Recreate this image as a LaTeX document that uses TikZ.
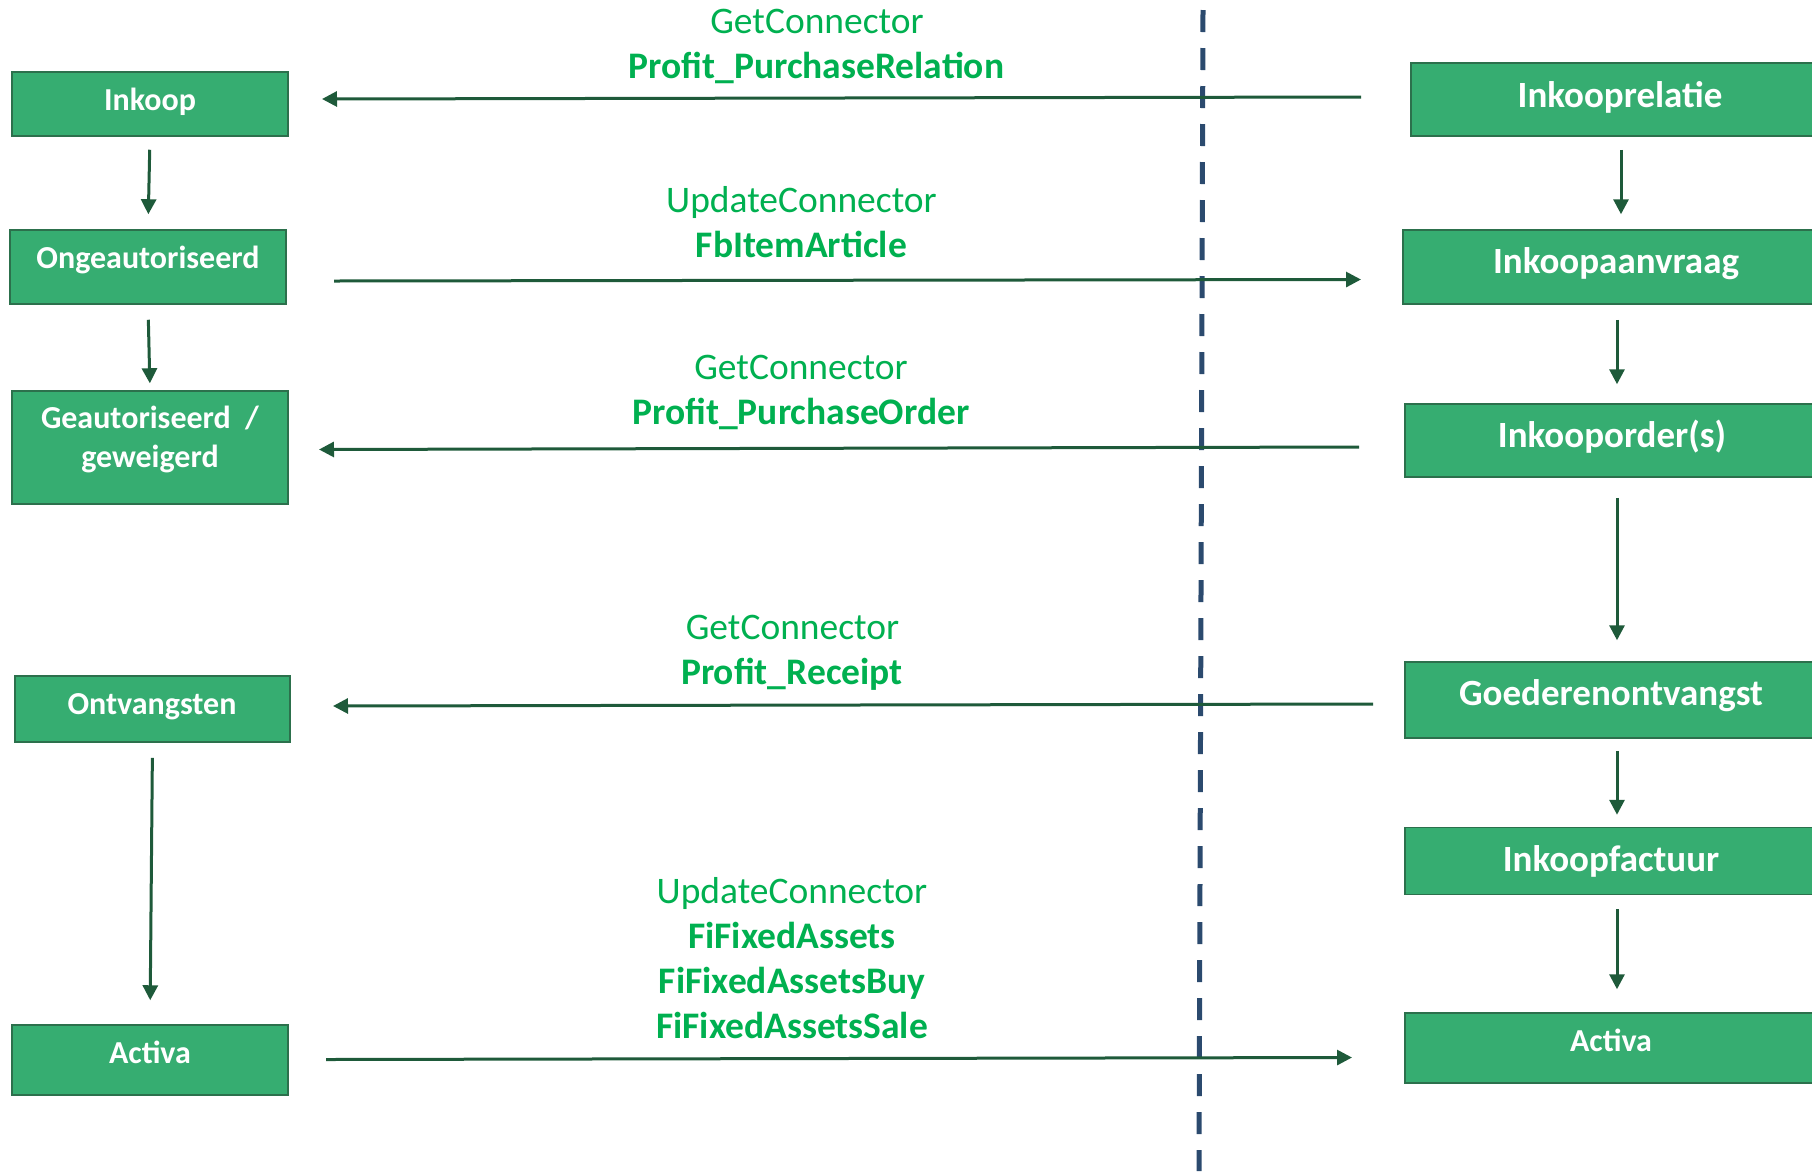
\documentclass[tikz,border=0pt]{standalone}
\usepackage{fontspec}
\setmainfont{Carlito}
\usetikzlibrary{arrows.meta}
\definecolor{boxfill}{RGB}{54,173,113}
\definecolor{boxline}{RGB}{44,112,76}
\definecolor{arrowc}{RGB}{30,90,58}
\definecolor{lblc}{RGB}{0,176,80}
\definecolor{dashc}{RGB}{43,74,110}
\tikzset{
  box/.style={rectangle, draw=boxline, line width=1.5pt, fill=boxfill, inner sep=0pt},
  ltxt/.style={anchor=base, inner sep=0pt, text=white, font=\fontsize{32}{38}\selectfont\bfseries},
  rtxt/.style={anchor=base, inner sep=0pt, text=white, font=\fontsize{37}{44}\selectfont\bfseries},
  lbl/.style={anchor=base, inner sep=0pt, text=lblc, font=\fontsize{37.5}{45}\selectfont},
  lblb/.style={anchor=base, inner sep=0pt, text=lblc, font=\fontsize{37.5}{45}\selectfont\bfseries},
  arr/.style={draw=arrowc, line width=3pt, -{Triangle[length=15pt,width=15pt]}},
  divider/.style={draw=dashc, line width=5pt, dash pattern=on 22pt off 16pt}
}
\begin{document}
\begin{tikzpicture}[x=1pt,y=-1pt]
\useasboundingbox (0,0) rectangle (1812,1171);

% divider
\coordinate (divtop) at (1203,10);
\coordinate (divbot) at (1199,1171);
\draw[divider] (divtop) -- (divbot);

% left boxes
\node[box, minimum width=276pt, minimum height=64pt] (inkoop) at (150,104) {};
\node[box, minimum width=276pt, minimum height=74pt] (onge) at (148,267) {};
\node[box, minimum width=276pt, minimum height=113pt] (geaut) at (150,447.5) {};
\node[box, minimum width=275pt, minimum height=66pt] (ontv) at (152.5,709) {};
\node[box, minimum width=276pt, minimum height=70pt] (activaL) at (150,1060) {};

\node[ltxt] (t-inkoop) at (150,110) {Inkoop};
\node[ltxt] (t-onge) at (148,268) {Ongeautoriseerd};
\node[ltxt] (t-geaut1) at (150,428) {Geautoriseerd\hspace{0.45em}/};
\node[ltxt] (t-geaut2) at (150,467) {geweigerd};
\node[ltxt] (t-ontv) at (152,714) {Ontvangsten};
\node[ltxt] (t-activaL) at (150,1063) {Activa};

% right boxes
\node[box, minimum width=420pt, minimum height=73pt] (rel) at (1621,99.5) {};
\node[box, minimum width=428pt, minimum height=74pt] (aanvraag) at (1617,267) {};
\node[box, minimum width=424pt, minimum height=73pt] (order) at (1617,440.5) {};
\node[box, minimum width=424pt, minimum height=76pt] (goed) at (1617,700) {};
\node[box, minimum width=424pt, minimum height=67pt] (fact) at (1617,861) {};
\node[box, minimum width=424pt, minimum height=70pt] (activaR) at (1617,1048) {};

\node[rtxt] (t-rel) at (1620,107) {Inkooprelatie};
\node[rtxt] (t-aanvraag) at (1616,273) {Inkoopaanvraag};
\node[rtxt] (t-order) at (1612,447) {Inkooporder(s)};
\node[rtxt] (t-goed) at (1611,705) {Goederenontvangst};
\node[rtxt] (t-fact) at (1611,871) {Inkoopfactuur};
\node[ltxt] (t-activaR) at (1611,1051) {Activa};

% vertical arrows left
\draw[arr, shorten <=13pt, shorten >=15pt] (inkoop.south) -- (onge.north);
\draw[arr, shorten <=15pt, shorten >=7pt] (onge.south) -- (geaut.north);
\draw[arr, shorten <=15pt, shorten >=24pt] (ontv.south) -- (activaL.north);

% vertical arrows right
\draw[arr, shorten <=13pt, shorten >=15pt] (rel.south) -- (rel.south |- aanvraag.north);
\draw[arr, shorten <=15pt, shorten >=19pt] (aanvraag.south) -- (order.north);
\draw[arr, shorten <=20pt, shorten >=21pt] (order.south) -- (goed.north);
\draw[arr, shorten <=12pt, shorten >=12pt] (goed.south) -- (fact.north);
\draw[arr, shorten <=14pt, shorten >=23pt] (fact.south) -- (activaR.north);

% horizontal connectors
\coordinate (h1s) at (1361,97);    \coordinate (h1e) at (322,99);
\coordinate (h2s) at (334,281);    \coordinate (h2e) at (1361,279.5);
\coordinate (h3s) at (1359,447);   \coordinate (h3e) at (319,449.5);
\coordinate (h4s) at (1373,704);   \coordinate (h4e) at (333,706);
\coordinate (h5s) at (326,1059.5); \coordinate (h5e) at (1352,1057.5);
\draw[arr] (h1s) -- (h1e);
\draw[arr] (h2s) -- (h2e);
\draw[arr] (h3s) -- (h3e);
\draw[arr] (h4s) -- (h4e);
\draw[arr] (h5s) -- (h5e);

% labels
\node[lbl]  (l1a) at (817,33.5) {GetConnector};
\node[lblb] (l1b) at (816.5,78.5) {Profit\_PurchaseRelation};
\node[lbl]  (l2a) at (801.5,212) {UpdateConnector};
\node[lblb] (l2b) at (801.5,257) {FbItemArticle};
\node[lbl]  (l3a) at (801,379) {GetConnector};
\node[lblb] (l3b) at (801,424) {Profit\_PurchaseOrder};
\node[lbl]  (l4a) at (792.5,639.5) {GetConnector};
\node[lblb] (l4b) at (792,684) {Profit\_Receipt};
\node[lbl]  (l5a) at (792,903) {UpdateConnector};
\node[lblb] (l5b) at (792,948) {FiFixedAssets};
\node[lblb] (l5c) at (792,993) {FiFixedAssetsBuy};
\node[lblb] (l5d) at (792,1038) {FiFixedAssetsSale};
\end{tikzpicture}
\end{document}
